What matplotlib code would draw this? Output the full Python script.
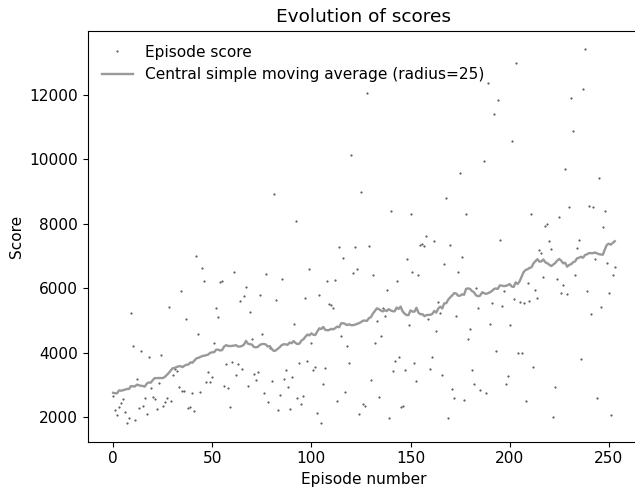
import numpy as np
import matplotlib
matplotlib.use("Agg")
import matplotlib.pyplot as plt

# Score of every episode, in episode order (episode number = index)
scores = [
    2651, 2217, 2072, 2320, 2444, 2568, 2176, 1835, 1969, 5243,
    4210, 1927, 3177, 2289, 4045, 2341, 2589, 2114, 3880, 2900,
    2630, 2568, 2248, 3064, 3932, 2341, 2485, 2589, 5409, 2520,
    3312, 3500, 3436, 2940, 5905, 2806, 2806, 5047, 2289, 2310,
    2744, 2186, 6989, 4572, 2795, 6617, 6235, 3085, 3415, 3085,
    3250, 4303, 5398, 5109, 6204, 6225, 2981, 3663, 2899, 2310,
    3725, 6514, 3301, 3653, 5595, 3498, 5750, 6029, 2971, 5264,
    4427, 3332, 3147, 3394, 5781, 4593, 2744, 6442, 2465, 4150,
    3136, 8931, 5626, 2217, 2702, 6287, 3188, 3456, 2940, 2269,
    3239, 4882, 8074, 2589, 3684, 2403, 2661, 5708, 3756, 6597,
    4303, 3456, 3570, 2134, 5801, 1824, 3023, 3529, 6225, 5512,
    5481, 5378, 6246, 2516, 7268, 4531, 6938, 2795, 4221, 3684,
    10140, 6483, 7279, 6597, 2103, 8983, 2423, 2361, 12051, 7320,
    3147, 6400, 4303, 4985, 2640, 4510, 5400, 5150, 5936, 1979,
    8394, 3446, 3735, 6225, 3870, 2330, 2351, 3456, 6896, 4872,
    8301, 6504, 3684, 3116, 6421, 7340, 7382, 7320, 7619, 5037,
    3498, 3870, 7475, 4675, 5584, 5233, 3312, 6752, 8807, 1969,
    7330, 2868, 2609, 5130, 6504, 9572, 6969, 2537, 8301, 4427,
    4727, 3456, 3033, 5997, 5388, 2837, 5900, 9933, 2754, 12361,
    4882, 5543, 11390, 4056, 11824, 7506, 5440, 5905, 3033, 3291,
    4851, 10574, 5677, 12970, 3994, 5574, 3994, 5533, 2506, 6163,
    5595, 8301, 3560, 5956, 5708, 7175, 7103, 6338, 7929, 7991,
    7464, 7217, 2000, 2929, 6297, 8208, 5863, 6091, 9696, 5822,
    8518, 11896, 10873, 6421, 7237, 7485, 3797, 12175, 13404, 5925,
    8549, 5202, 8528, 6917, 2599, 9417, 5409, 7888, 8404, 6793,
    5843, 2062, 6421, 6648,
]
radius = 25

episodes = np.arange(len(scores))
values = np.array(scores, dtype=float)

# central simple moving average, window shrinks at both ends
sma = np.array([values[max(0, i - radius):i + radius + 1].mean()
                for i in range(len(values))])

plt.rcParams['font.size'] = 11.1

fig = plt.figure(figsize=(6.35, 4.91), dpi=100)
ax = fig.add_axes([0.1386, 0.1004, 0.869, 0.837])

ax.plot(episodes, values, '.', color='#404040', markersize=1.0,
        label="Episode score")
ax.plot(episodes, sma, color='#999999', linewidth=1.7,
        label="Central simple moving average (radius=%d)" % radius)

ax.set_xlim(-12.65, 265.65)
ax.set_xticks([0, 50, 100, 150, 200, 250])
ax.spines['right'].set_visible(False)  # frame runs off the right edge
ax.set_title("Evolution of scores", fontsize=13.3)
ax.set_xlabel("Episode number")
ax.set_ylabel("Score")
ax.legend(loc='upper left', frameon=False)

fig.savefig("out.png", dpi=100)
